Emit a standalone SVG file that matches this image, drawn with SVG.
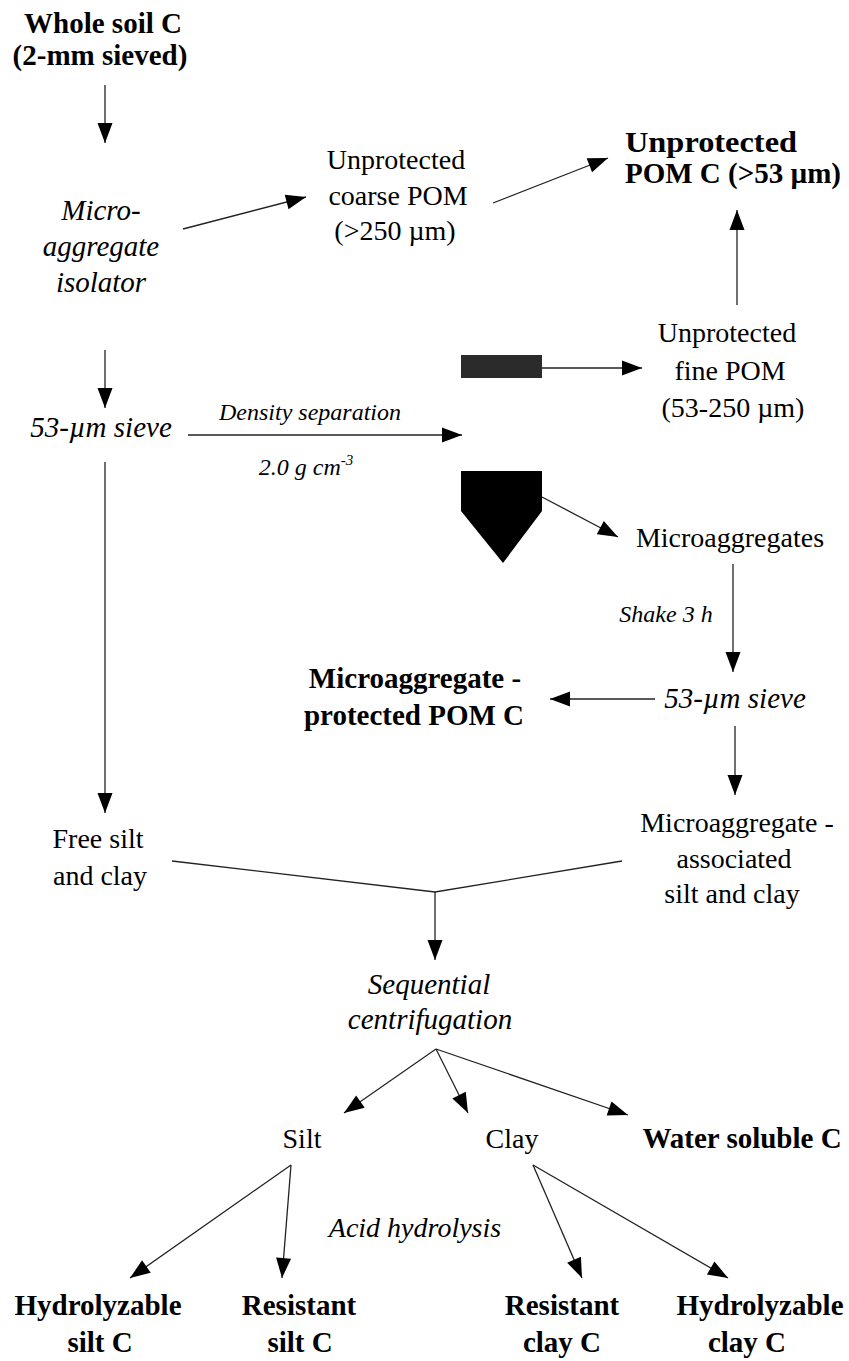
<svg xmlns="http://www.w3.org/2000/svg" width="849" height="1361" viewBox="0 0 849 1361">
<style>
text{font-family:"Liberation Serif","Times New Roman","DejaVu Serif",serif;fill:#000;text-anchor:middle}
.r{font-size:28px}
.b{font-size:29px;font-weight:bold}
.i{font-size:29px;font-style:italic}
.s{font-size:24px;font-style:italic}
.c line,.c polyline{stroke:#222;stroke-width:1.3;fill:none}
.a{marker-end:url(#ah)}
</style>
<defs>
<marker id="ah" markerUnits="userSpaceOnUse" markerWidth="21" markerHeight="16" refX="20" refY="7.5" orient="auto" overflow="visible"><path d="M0,0 L20,7.5 L0,15 z" fill="#000"/></marker>
</defs>
<rect width="849" height="1361" fill="#fff"/>
<g id="whole-soil"><text class="b" x="103" y="33">Whole soil C</text><text class="b" x="100" y="65">(2-mm sieved)</text></g>
<g id="isolator"><text class="i" x="101" y="220">Micro-</text><text class="i" x="101" y="256">aggregate</text><text class="i" x="101" y="292">isolator</text></g>
<g id="coarse-pom"><text class="r" x="396" y="169">Unprotected</text><text class="r" x="398" y="205">coarse POM</text><text class="r" x="395" y="240">(&gt;250 µm)</text></g>
<g id="unprot-pom-c"><text class="b" x="711" y="152" textLength="172" lengthAdjust="spacingAndGlyphs">Unprotected</text><text class="b" x="733" y="183">POM C (&gt;53 µm)</text></g>
<g id="fine-pom"><text class="r" x="727" y="342">Unprotected</text><text class="r" x="730" y="380">fine POM</text><text class="r" x="733" y="417">(53-250 µm)</text></g>
<g id="sieve1"><text class="i" x="101" y="437">53-µm sieve</text></g>
<g id="light-fraction"><rect x="461" y="355" width="81" height="23" fill="#2b2b2b"/></g>
<g id="heavy-fraction"><polygon points="461,471 542,471 542,511 503,563 461,511" fill="#000"/></g>
<g id="microaggregates"><text class="r" x="730" y="547">Microaggregates</text></g>
<g id="sieve2"><text class="i" x="735" y="708">53-µm sieve</text></g>
<g id="protected-pom"><text class="b" x="415" y="688">Microaggregate -</text><text class="b" x="414" y="725">protected POM C</text></g>
<g id="free-silt-clay"><text class="r" x="98" y="848">Free silt</text><text class="r" x="100" y="885">and clay</text></g>
<g id="assoc-silt-clay"><text class="r" x="737" y="832">Microaggregate -</text><text class="r" x="734" y="868">associated</text><text class="r" x="732" y="903">silt and clay</text></g>
<g id="centrifugation"><text class="i" x="429" y="994">Sequential</text><text class="i" x="430" y="1029">centrifugation</text></g>
<g id="silt"><text class="r" x="302" y="1148">Silt</text></g>
<g id="clay"><text class="r" x="512" y="1148">Clay</text></g>
<g id="water-soluble"><text class="b" x="742" y="1148">Water soluble C</text></g>
<g id="hydro-silt"><text class="b" x="98" y="1315">Hydrolyzable</text><text class="b" x="100" y="1352">silt C</text></g>
<g id="resist-silt"><text class="b" x="299" y="1315">Resistant</text><text class="b" x="300" y="1352">silt C</text></g>
<g id="resist-clay"><text class="b" x="562" y="1315">Resistant</text><text class="b" x="562" y="1352">clay C</text></g>
<g id="hydro-clay"><text class="b" x="760" y="1315">Hydrolyzable</text><text class="b" x="747" y="1352">clay C</text></g>
<g id="labels">
<text class="s" x="310" y="420">Density separation</text>
<text class="s" x="306" y="475">2.0 g cm<tspan font-size="15" dy="-10">-3</tspan></text>
<text class="s" x="666" y="622">Shake 3 h</text>
<text class="i" x="415" y="1237" style="font-size:28px">Acid hydrolysis</text>
</g>
<g id="connectors" class="c">
<line class="a" x1="105" y1="85" x2="105" y2="143"/>
<line class="a" x1="183" y1="229" x2="306" y2="197"/>
<line class="a" x1="493" y1="203" x2="608" y2="158"/>
<line class="a" x1="737" y1="305" x2="737" y2="210"/>
<line class="a" x1="105" y1="350" x2="105" y2="408"/>
<line class="a" x1="188" y1="435" x2="462" y2="435"/>
<line class="a" x1="542" y1="368" x2="642" y2="368"/>
<line class="a" x1="542" y1="497" x2="618" y2="537"/>
<line class="a" x1="733" y1="564" x2="733" y2="672"/>
<line class="a" x1="655" y1="699" x2="550" y2="699"/>
<line class="a" x1="735" y1="726" x2="735" y2="795"/>
<line class="a" x1="105" y1="462" x2="105" y2="813"/>
<polyline points="172,861 435,892 622,861"/>
<line class="a" x1="435" y1="892" x2="435" y2="960"/>
<line class="a" x1="436" y1="1049" x2="344" y2="1113"/>
<line class="a" x1="436" y1="1049" x2="468" y2="1113"/>
<line class="a" x1="436" y1="1049" x2="628" y2="1115"/>
<line class="a" x1="291" y1="1165" x2="130" y2="1278"/>
<line class="a" x1="291" y1="1165" x2="282" y2="1278"/>
<line class="a" x1="533" y1="1165" x2="582" y2="1278"/>
<line class="a" x1="533" y1="1165" x2="728" y2="1278"/>
</g>
</svg>
